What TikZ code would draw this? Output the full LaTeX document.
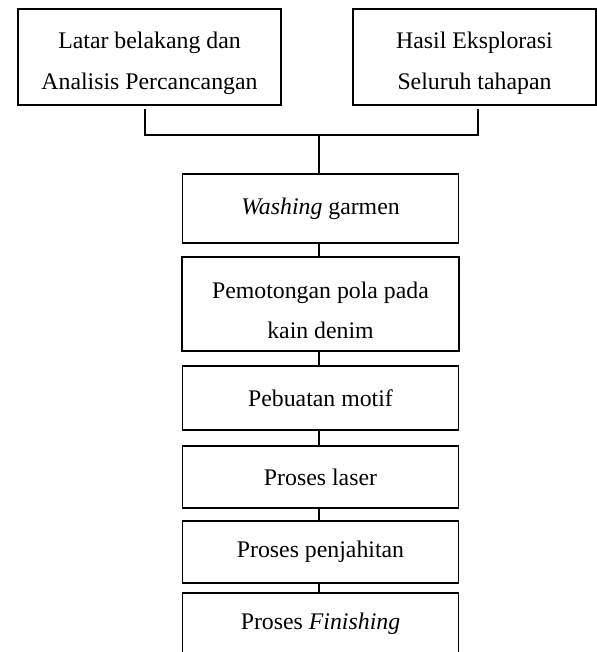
\documentclass[tikz,border=0pt]{standalone}
\usepackage{fontspec}
\setmainfont{Liberation Serif}

\tikzset{
  kotak/.style={draw,line width=0.7pt,rectangle,inner sep=0pt,align=center,
    font=\fontsize{11.9}{20.2}\selectfont},
  garis/.style={line width=0.7pt}
}
\newcommand{\turun}{\rule{0pt}{14.5pt}}

\begin{document}
\begin{tikzpicture}[line cap=butt,line join=miter,x=0.5pt,y=-0.5pt]
            \useasboundingbox (0,0) rectangle (597,652);
            \clip (0,0) rectangle (597,652);
            \node[kotak,minimum width=131.5pt,minimum height=48pt] (latar) at (149.5,57) {\turun Latar belakang dan\\Analisis Percancangan};
            \node[kotak,minimum width=121.5pt,minimum height=48pt] (hasil) at (474.5,57) {\turun Hasil Eksplorasi\\Seluruh tahapan};
            \node[kotak,minimum width=138pt,minimum height=34.5pt] (washing) at (320.5,208.5) {\textit{Washing} garmen};
            \node[kotak,minimum width=138.5pt,minimum height=47pt] (potong) at (320.5,304) {\turun Pemotongan pola pada\\kain denim};
            \node[kotak,minimum width=138pt,minimum height=32pt] (motif) at (320.5,398) {Pebuatan motif};
            \node[kotak,minimum width=138pt,minimum height=31pt] (laser) at (320.5,477) {Proses laser};
            \node[kotak,minimum width=138pt,minimum height=31pt] (jahit) at (320.5,552) {Proses penjahitan};
            \node[kotak,minimum width=138pt,minimum height=31pt] (finishing) at (320.5,624) {Proses \textit{Finishing}};
            \coordinate (gabung) at (319,135);
            \draw [garis] ([xshift=-2.25pt,yshift=-1.5pt]latar.south) |- (gabung);
            \draw [garis] ([xshift=1.75pt,yshift=-1.5pt]hasil.south) |- (gabung);
            \draw [garis] (gabung) -- (gabung |- washing.north);
            \draw [garis] ([xshift=-0.75pt]washing.south) -- ([xshift=-0.75pt]potong.north);
            \draw [garis] ([xshift=-0.75pt]potong.south) -- ([xshift=-0.75pt]motif.north);
            \draw [garis] ([xshift=-0.75pt]motif.south) -- ([xshift=-0.75pt]laser.north);
            \draw [garis] ([xshift=-0.75pt]laser.south) -- ([xshift=-0.75pt]jahit.north);
            \draw [garis] ([xshift=-0.75pt]jahit.south) -- ([xshift=-0.75pt]finishing.north);
\end{tikzpicture}
\end{document}
